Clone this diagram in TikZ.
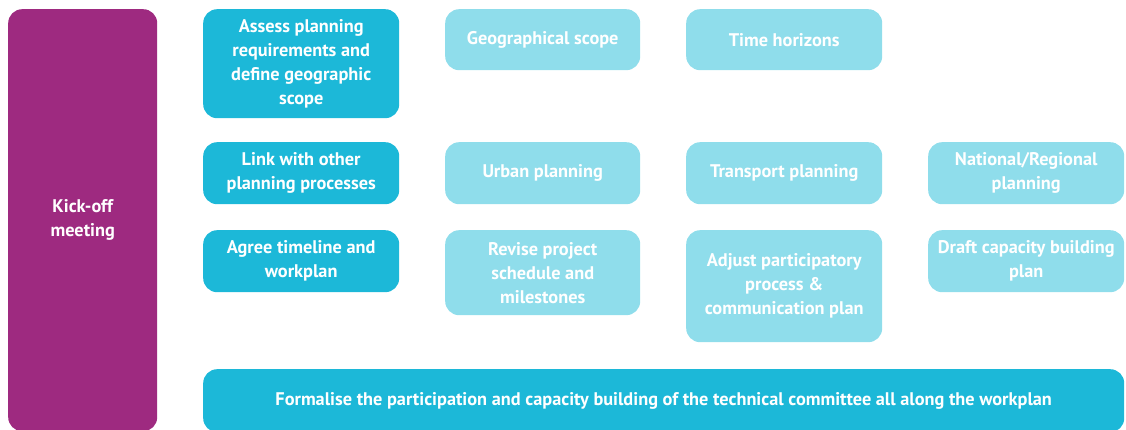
\documentclass[tikz,border=0pt]{standalone}
\usepackage{fontspec}
\setmainfont{PT Sans}
\definecolor{kpurple}{HTML}{9E2A80}
\definecolor{kdark}{HTML}{1CB8D8}
\definecolor{klight}{HTML}{8FDDEB}
\tikzset{
  base/.style={anchor=north west, rounded corners=14pt, inner sep=0pt, align=center,
    text=white, font=\fontsize{18.3}{24}\selectfont\bfseries},
  darkbox/.style={base, fill=kdark},
  lightbox/.style={base, fill=klight},
  kickbox/.style={base, fill=kpurple},
}
\begin{document}
\begin{tikzpicture}[x=1pt,y=-1pt]
\useasboundingbox (0,0) rectangle (1126,430);
\clip (0,0) rectangle (1126,430);
\node[kickbox, minimum width=149pt, minimum height=422pt] (kick) at (8,9) {Kick-off\\meeting};
% column 1
\node[darkbox, minimum width=196pt, minimum height=109pt] (assess) at (203,9) {Assess planning\\requirements and\\define geographic\\scope};
\node[darkbox, minimum width=196pt, minimum height=62pt] (link) at (203,142) {Link with other\\planning processes};
\node[darkbox, minimum width=196pt, minimum height=62pt] (agree) at (203,230) {Agree timeline and\\workplan};
% column 2
\node[lightbox, minimum width=195pt, minimum height=61pt] (geo) at (445,9) {Geographical scope};
\node[lightbox, minimum width=195pt, minimum height=62pt] (urban) at (445,142) {Urban planning};
\node[lightbox, minimum width=195pt, minimum height=85pt] (revise) at (445,230) {Revise project\\schedule and\\milestones};
% column 3
\node[lightbox, minimum width=196pt, minimum height=61pt] (time) at (686,9) {Time horizons};
\node[lightbox, minimum width=196pt, minimum height=62pt] (transport) at (686,142) {Transport planning};
\node[lightbox, minimum width=196pt, minimum height=112pt] (adjust) at (686,230) {Adjust participatory\\process \&\\communication plan};
% column 4
\node[lightbox, minimum width=196pt, minimum height=62pt] (national) at (928,142) {National/Regional\\planning};
\node[lightbox, minimum width=196pt, minimum height=62pt] (draft) at (928,230) {Draft capacity building\\plan};
% bottom
\node[darkbox, minimum width=921pt, minimum height=63pt] (formal) at (203,369) {Formalise the participation and capacity building of the technical committee all along the workplan};
\end{tikzpicture}
\end{document}
